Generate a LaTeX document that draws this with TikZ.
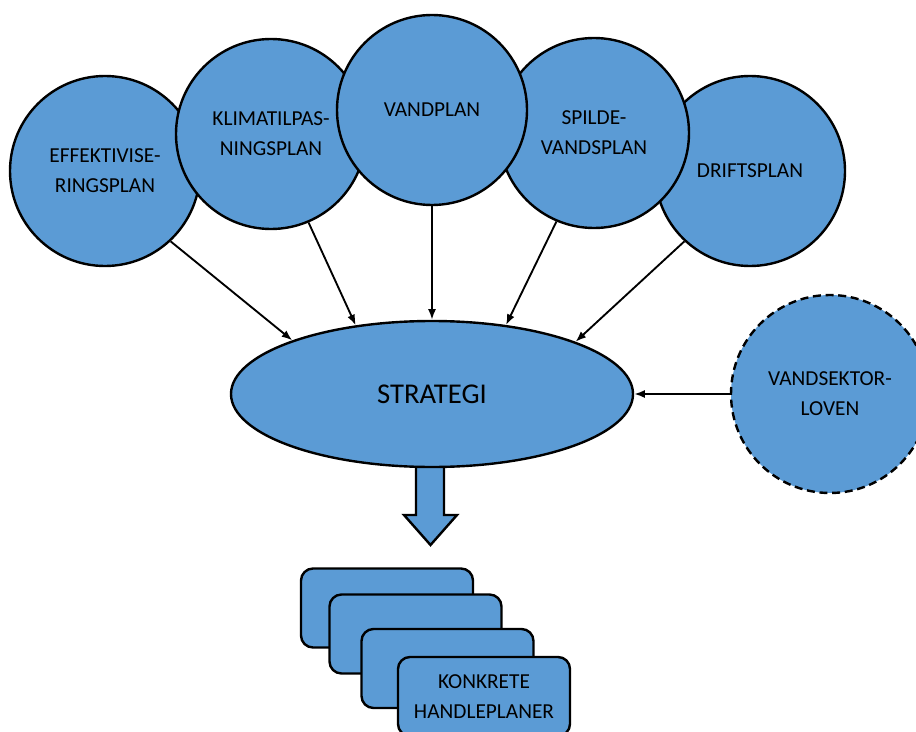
\documentclass[tikz,border=0pt]{standalone}
\usepackage{fontspec}
\setmainfont{Carlito}
\usetikzlibrary{shapes.geometric,arrows.meta}
\definecolor{planblue}{RGB}{91,155,213}

\tikzstyle{plan} = [draw,
    circle,
    fill=planblue,
    line width=1.8pt,
    minimum size=142.5pt,
    inner sep=0pt,
    align=center,
    font=\fontsize{16}{22.5}\selectfont]
\tikzstyle{law} = [plan,
    dash pattern=on 6pt off 3.5pt,
    minimum size=148.5pt]
\tikzstyle{core} = [draw,
    ellipse,
    fill=planblue,
    line width=1.8pt,
    inner sep=0pt,
    minimum width=301.5pt,
    minimum height=109.5pt,
    font=\fontsize{21.5}{26}\selectfont]
\tikzstyle{action} = [draw,
    rectangle,
    rounded corners=9pt,
    fill=planblue,
    line width=1.8pt,
    minimum width=129pt,
    minimum height=59.25pt,
    align=center,
    font=\fontsize{16}{22.5}\selectfont]
\tikzstyle{link} = [draw,
    line width=1.4pt,
    -{Latex[length=8pt,width=6pt]}]
\tikzstyle{bigarrow} = [draw,
    fill=planblue,
    line width=1.8pt,
    line join=miter]

\begin{document}
\begin{tikzpicture}[x=0.75pt,y=-0.75pt]
            \useasboundingbox (0,0) rectangle (916,731);
            % plans, outer ones first
            \node (effekt) [plan] at (105,171) {EFFEKTIVISE-\\RINGSPLAN};
            \node (drift) [plan] at (750,171) {DRIFTSPLAN};
            \node (klima) [plan] at (271,134) {KLIMATILPAS-\\NINGSPLAN};
            \node (spilde) [plan] at (594,133) {SPILDE-\\VANDSPLAN};
            \node (vandplan) [plan] at (432,110) {VANDPLAN};
            \node (loven) [law] at (830,394) {VANDSEKTOR-\\LOVEN};
            % fat arrow down to the action plans
            \draw [bigarrow] (416,466) -- (416,515) -- (404,515) -- (430.5,545)
                -- (457,515) -- (444,515) -- (444,466) -- cycle;
            \node (strategi) [core] at (432,394) {STRATEGI};
            \node (handlea) [action] at (387,608) {};
            \node (handleb) [action] at (415.5,634) {};
            \node (handlec) [action] at (447.5,668.5) {};
            \node (handled) [action] at (484,696.5) {KONKRETE\\HANDLEPLANER};
            \draw [link] (effekt.-47) -- (strategi.159);
            \draw [link] (klima.-67) -- (strategi.138);
            \draw [link] (vandplan.south) -- (strategi.north);
            \draw [link] (spilde.-113) -- (strategi.43);
            \draw [link] (drift.-133) -- (strategi.20);
            \draw [link] (loven.west) -- (strategi.east);
        \end{tikzpicture}
\end{document}
